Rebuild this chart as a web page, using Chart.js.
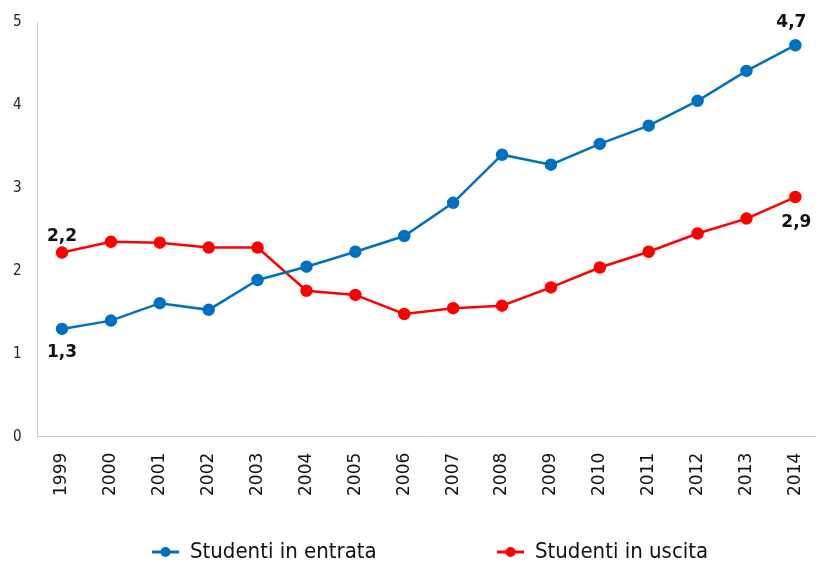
<!DOCTYPE html>
<html>
<head>
<meta charset="utf-8">
<script src="https://cdn.jsdelivr.net/npm/chart.js@4/dist/chart.umd.min.js"></script>
<style>
  html, body { margin: 0; padding: 0; background: #fff; overflow: hidden; }
  #wrap { width: 848px; height: 567px; position: relative; margin-left: -16px; margin-top: -3px; }
</style>
</head>
<body>
<div id="wrap"><canvas id="chart1"></canvas></div>
<script>
const years = ["1999", "2000", "2001", "2002", "2003", "2004", "2005", "2006",
  "2007", "2008", "2009", "2010", "2011", "2012", "2013", "2014"];
const entrata = [1.30, 1.40, 1.61, 1.53, 1.89, 2.05, 2.23, 2.42,
  2.82, 3.40, 3.28, 3.53, 3.75, 4.05, 4.41, 4.72];
const uscita = [2.22, 2.35, 2.34, 2.28, 2.28, 1.76, 1.71, 1.48,
  1.55, 1.58, 1.80, 2.04, 2.23, 2.45, 2.63, 2.89];
const yTicks = [0, 1, 2, 3, 4, 5];

const blue = "#0070C0";
const red = "#FF0000";
const shiftX = 16; // canvas is pulled left by this much
const shiftY = 3;  // and up by this much

// labels shown only on the first and last point: [dataset, index, text, dx, dy]
const endLabels = [
  [0, 0, "1,3", 0, 24],
  [0, 15, "4,7", -4, -23],
  [1, 0, "2,2", 0, -16],
  [1, 15, "2,9", 1, 26],
];

const endLabelPlugin = {
  id: "endLabels",
  afterDatasetsDraw(chart) {
    const ctx = chart.ctx;
    ctx.save();
    ctx.font = "bold 17px 'DejaVu Sans'";
    ctx.fillStyle = "#111";
    ctx.textAlign = "center";
    ctx.textBaseline = "middle";
    endLabels.forEach(([ds, i, txt, dx, dy]) => {
      const pt = chart.getDatasetMeta(ds).data[i];
      ctx.fillText(txt, pt.x + dx, pt.y + dy);
    });
    ctx.restore();
  },
};

// legend drawn by hand so the wide gap between items can be matched
const legendPlugin = {
  id: "lineLegend",
  afterDraw(chart) {
    const ctx = chart.ctx;
    const items = [
      { x: 152 + shiftX, ds: 0 },
      { x: 497 + shiftX, ds: 1 },
    ];
    const y = 552 + shiftY;
    ctx.save();
    items.forEach((it) => {
      const ds = chart.data.datasets[it.ds];
      ctx.strokeStyle = ds.borderColor;
      ctx.fillStyle = ds.borderColor;
      ctx.lineWidth = 3;
      ctx.beginPath();
      ctx.moveTo(it.x, y);
      ctx.lineTo(it.x + 27, y);
      ctx.stroke();
      ctx.beginPath();
      ctx.arc(it.x + 13.5, y, 5, 0, Math.PI * 2);
      ctx.fill();
      ctx.fillStyle = "#111";
      ctx.font = "22px 'DejaVu Sans Condensed'";
      ctx.textAlign = "left";
      ctx.textBaseline = "middle";
      ctx.fillText(ds.label, it.x + 38, y);
    });
    ctx.restore();
  },
};

var ctx = document.getElementById("chart1").getContext("2d");
var myChart = new Chart(ctx, {
  type: "line",
  data: {
    labels: years,
    datasets: [
      {
        label: "Studenti in entrata",
        data: entrata,
        borderColor: blue,
        backgroundColor: blue,
        borderWidth: 2.5,
        pointRadius: 5,
        pointHoverRadius: 5,
        tension: 0,
      },
      {
        label: "Studenti in uscita",
        data: uscita,
        borderColor: red,
        backgroundColor: red,
        borderWidth: 2.5,
        pointRadius: 5,
        pointHoverRadius: 5,
        tension: 0,
      },
    ],
  },
  options: {
    responsive: true,
    maintainAspectRatio: false,
    animation: false,
    layout: {
      padding: { top: 0, left: 13, right: 0, bottom: 52 },
    },
    plugins: {
      legend: { display: false },
      tooltip: { enabled: false },
    },
    scales: {
      x: {
        offset: true,
        grid: { display: false, drawTicks: false },
        border: { display: true, color: "#c8c8c8", width: 1 },
        ticks: {
          color: "#111",
          font: { family: "'DejaVu Sans'", size: 17 },
          minRotation: 90,
          maxRotation: 90,
          padding: 16,
          autoSkip: false,
        },
      },
      y: {
        min: 0,
        max: 5,
        afterBuildTicks: (axis) => {
          axis.ticks = yTicks.map((v) => ({ value: v }));
        },
        grid: { display: false, drawTicks: false },
        border: { display: true, color: "#c8c8c8", width: 1 },
        ticks: {
          color: "#222",
          font: { family: "'DejaVu Sans Condensed'", size: 15 },
          padding: 16,
        },
      },
    },
  },
  plugins: [endLabelPlugin, legendPlugin],
});
</script>
</body>
</html>
